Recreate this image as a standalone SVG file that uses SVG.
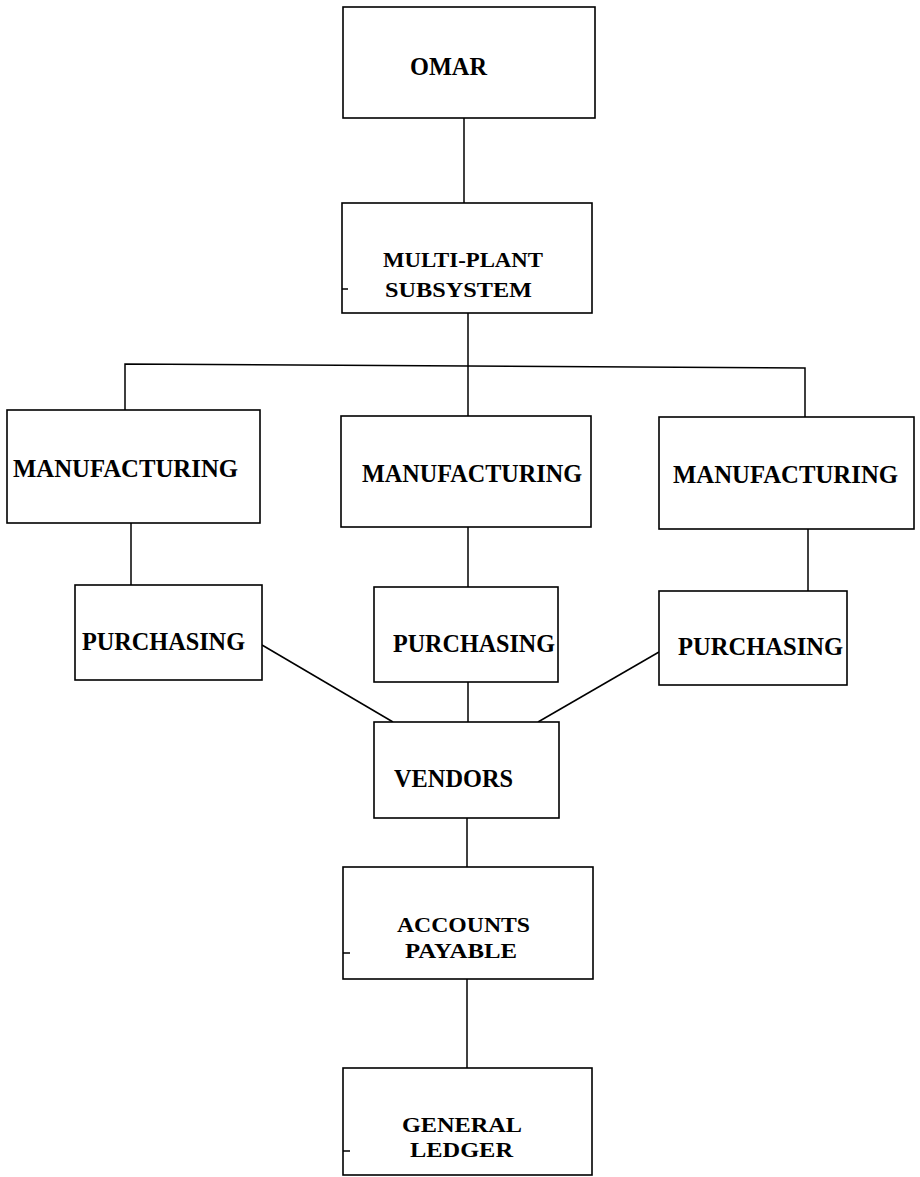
<svg xmlns="http://www.w3.org/2000/svg" width="920" height="1177" viewBox="0 0 920 1177">
<style>
.box{fill:#fff;stroke:#000;stroke-width:1.6}
.ln{fill:none;stroke:#000;stroke-width:1.5}
.t{font-family:"Liberation Serif","Times New Roman",serif;font-weight:bold;font-size:26px;fill:#000}
.s{font-size:22px}
</style>
<rect width="920" height="1177" fill="#fff"/>
<g id="connectors">
<line class="ln" x1="464" y1="118" x2="464" y2="203"/>
<line class="ln" x1="468" y1="313" x2="468" y2="416"/>
<polyline class="ln" points="125,410 125,364 468,366 805,368 805,417"/>
<line class="ln" x1="131" y1="523" x2="131" y2="585"/>
<line class="ln" x1="468" y1="527" x2="468" y2="587"/>
<line class="ln" x1="808" y1="529" x2="808" y2="591"/>
<line class="ln" x1="262" y1="645" x2="393" y2="722"/>
<line class="ln" x1="468" y1="682" x2="468" y2="722"/>
<line class="ln" x1="659" y1="652" x2="538" y2="722"/>
<line class="ln" x1="467" y1="818" x2="467" y2="867"/>
<line class="ln" x1="467" y1="979" x2="467" y2="1068"/>
</g>
<g id="omar">
<rect class="box" x="343" y="7" width="252" height="111"/>
<text class="t" x="410" y="75" textLength="77" lengthAdjust="spacingAndGlyphs">OMAR</text>
</g>
<g id="multiplant">
<rect class="box" x="342" y="203" width="250" height="110"/>
<line class="ln" x1="342" y1="289" x2="348" y2="289"/>
<text class="t s" x="383" y="267" textLength="160" lengthAdjust="spacingAndGlyphs">MULTI-PLANT</text>
<text class="t s" x="385" y="297" textLength="147" lengthAdjust="spacingAndGlyphs">SUBSYSTEM</text>
</g>
<g id="mfg-left">
<rect class="box" x="7" y="410" width="253" height="113"/>
<text class="t" x="13" y="477" textLength="225" lengthAdjust="spacingAndGlyphs">MANUFACTURING</text>
</g>
<g id="mfg-mid">
<rect class="box" x="341" y="416" width="250" height="111"/>
<text class="t" x="362" y="482" textLength="220" lengthAdjust="spacingAndGlyphs">MANUFACTURING</text>
</g>
<g id="mfg-right">
<rect class="box" x="659" y="417" width="255" height="112"/>
<text class="t" x="673" y="483" textLength="225" lengthAdjust="spacingAndGlyphs">MANUFACTURING</text>
</g>
<g id="pur-left">
<rect class="box" x="75" y="585" width="187" height="95"/>
<text class="t" x="82" y="650" textLength="163" lengthAdjust="spacingAndGlyphs">PURCHASING</text>
</g>
<g id="pur-mid">
<rect class="box" x="374" y="587" width="184" height="95"/>
<text class="t" x="393" y="652" textLength="162" lengthAdjust="spacingAndGlyphs">PURCHASING</text>
</g>
<g id="pur-right">
<rect class="box" x="659" y="591" width="188" height="94"/>
<text class="t" x="678" y="655" textLength="165" lengthAdjust="spacingAndGlyphs">PURCHASING</text>
</g>
<g id="vendors">
<rect class="box" x="374" y="722" width="185" height="96"/>
<text class="t" x="394" y="787" textLength="119" lengthAdjust="spacingAndGlyphs">VENDORS</text>
</g>
<g id="ap">
<rect class="box" x="343" y="867" width="250" height="112"/>
<line class="ln" x1="343" y1="953" x2="350" y2="953"/>
<text class="t s" x="397" y="932" textLength="133" lengthAdjust="spacingAndGlyphs">ACCOUNTS</text>
<text class="t s" x="405" y="958" textLength="112" lengthAdjust="spacingAndGlyphs">PAYABLE</text>
</g>
<g id="gl">
<rect class="box" x="343" y="1068" width="249" height="107"/>
<line class="ln" x1="343" y1="1151" x2="350" y2="1151"/>
<text class="t s" x="402" y="1132" textLength="120" lengthAdjust="spacingAndGlyphs">GENERAL</text>
<text class="t s" x="410" y="1157" textLength="103" lengthAdjust="spacingAndGlyphs">LEDGER</text>
</g>
</svg>
